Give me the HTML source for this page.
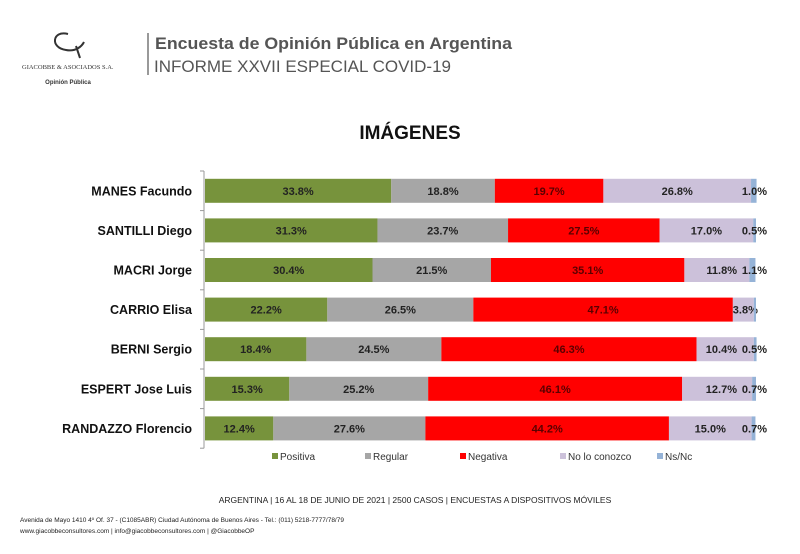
<!DOCTYPE html>
<html><head><meta charset="utf-8"><style>
body{margin:0;width:800px;height:554px;background:#fff;overflow:hidden;font-family:"Liberation Sans",sans-serif;}
svg{position:absolute;left:0;top:0}
</style></head><body>
<svg width="800" height="554" viewBox="0 0 800 554" id="svg">
<g>
<path d="M68 34 C52 30 50 48 66 50 C76 52 82 46 84 42 M76 46 L80 58" stroke="#333" stroke-width="2" fill="none"/>
<text x="22" y="69" font-size="6.5" font-family="Liberation Serif" fill="#333">GIACOBBE &amp; ASOCIADOS S.A.</text>
<text x="68" y="84" font-size="6" text-anchor="middle" font-weight="bold" fill="#333">Opinión Pública</text>
</g>
<line x1="148" y1="33" x2="148" y2="75" stroke="#777" stroke-width="1.5"/>
<text x="155" y="49" font-size="17" font-weight="bold" fill="#555" textLength="357" lengthAdjust="spacingAndGlyphs">Encuesta de Opinión Pública en Argentina</text>
<text x="154" y="72" font-size="17" fill="#555" textLength="297" lengthAdjust="spacingAndGlyphs">INFORME XXVII ESPECIAL COVID-19</text>
<text x="410" y="139" font-size="19" font-weight="bold" text-anchor="middle" fill="#111">IMÁGENES</text>
<g id="plot"></g>
<text x="415" y="503" font-size="8.5" text-anchor="middle" fill="#222">ARGENTINA | 16 AL 18 DE JUNIO DE 2021 | 2500 CASOS | ENCUESTAS A DISPOSITIVOS MÓVILES</text>
<text x="20" y="522" font-size="6.5" fill="#222">Avenida de Mayo 1410 4º Of. 37 - (C1085ABR) Ciudad Autónoma de Buenos Aires - Tel.: (011) 5218-7777/78/79</text>
<text x="20" y="533" font-size="6.5" fill="#222">www.giacobbeconsultores.com | info@giacobbeconsultores.com | @GiacobbeOP</text>
</svg>
<script>
const categories=["MANES Facundo","SANTILLI Diego","MACRI Jorge","CARRIO Elisa","BERNI Sergio","ESPERT Jose Luis","RANDAZZO Florencio"];
const seriesNames=["Positiva","Regular","Negativa","No lo conozco","Ns/Nc"];
const positiva=[33.8,31.3,30.4,22.2,18.4,15.3,12.4];
const regular=[18.8,23.7,21.5,26.5,24.5,25.2,27.6];
const negativa=[19.7,27.5,35.1,47.1,46.3,46.1,44.2];
const noConozco=[26.8,17.0,11.8,3.8,10.4,12.7,15.0];
const nsnc=[1.0,0.5,1.1,0.4,0.5,0.7,0.7];
const colors=["#77933c","#a6a6a6","#ff0000","#ccc1da","#95b3d7"];
const series=[positiva,regular,negativa,noConozco,nsnc];
const NS="http://www.w3.org/2000/svg";
const g=document.getElementById('plot');
const x0=205,x1=756,top0=171,step=39.6,bh=24;
const xs=v=>x0+(x1-x0)*v/100;
const yc=i=>top0+step*i+step/2;
function mk(t,a){const e=document.createElementNS(NS,t);for(const k in a)e.setAttribute(k,a[k]);g.appendChild(e);return e;}
let ax=mk('line',{x1:204,y1:top0,x2:204,y2:top0+step*categories.length,stroke:'#999'});


for(let i=0;i<=categories.length;i++){mk('line',{x1:200,x2:204,y1:top0+step*i,y2:top0+step*i,stroke:'#999'});}
categories.forEach((c,i)=>{
  const t=mk('text',{x:192,y:yc(i)+4.5,'font-size':12.5,'font-weight':'bold','text-anchor':'end',fill:'#111'});
  t.textContent=c;
  
  
  let cum=0;
  series.forEach((s,j)=>{
    const v=s[i];
    const r=mk('rect',{x:xs(cum),y:yc(i)-bh/2,width:xs(cum+v)-xs(cum),height:bh,fill:colors[j]});
    
    
    if(!(j==4&&i==3)){
      let lx=j==4?767:(xs(cum)+xs(cum+v))/2, anchor=j==4?'end':'middle';
      if(j==3&&v<13){lx=737;anchor='end';}
      if(j==3&&v<5){lx=(xs(cum)+xs(cum+v))/2+2;anchor='middle';}
      const l=mk('text',{x:lx,y:yc(i)+4,'font-size':11,'font-weight':'bold','text-anchor':anchor,fill:j==2?'#5a0000':'#222'});
      l.textContent=v.toFixed(1)+'%';
      
      
    }
    cum+=v;
  });
});
const lx=[272,365,460,560,657];
seriesNames.forEach((n,j)=>{
  mk('rect',{x:lx[j],y:453,width:6,height:6,fill:colors[j]});
  const t=mk('text',{x:lx[j]+8,y:460,'font-size':10,fill:'#333'});
  t.textContent=n;
  
  
});
</script>
</body></html>
